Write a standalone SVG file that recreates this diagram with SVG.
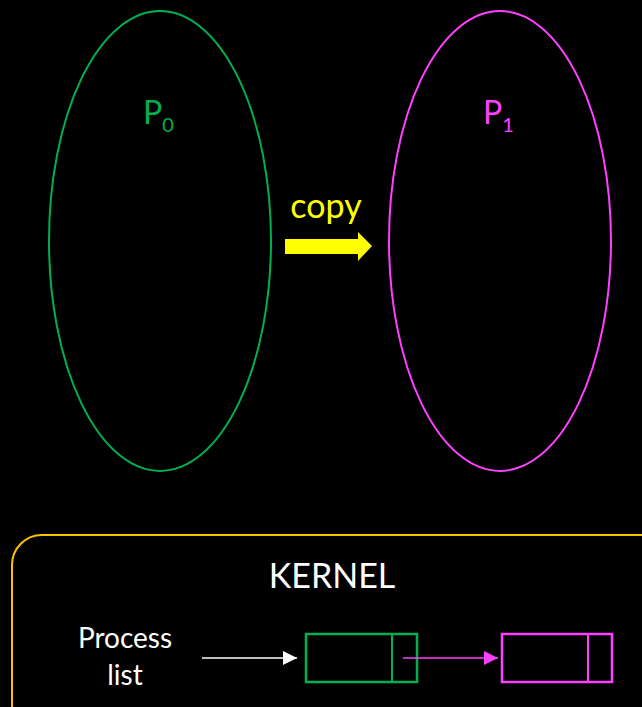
<svg xmlns="http://www.w3.org/2000/svg" width="642" height="707" viewBox="0 0 642 707">
<defs>
<style>
text{font-family:Lato,"Open Sans","Liberation Sans",sans-serif}
.g{stroke:#00B050;fill:none}
.m{stroke:#FF40FF;fill:none}
</style>
<marker id="aw" markerWidth="14" markerHeight="14" refX="14" refY="7" orient="auto" markerUnits="userSpaceOnUse"><path d="M0,0 L14,7 L0,14 Z" fill="#fff"/></marker>
<marker id="am" markerWidth="14" markerHeight="14" refX="14" refY="7" orient="auto" markerUnits="userSpaceOnUse"><path d="M0,0 L14,7 L0,14 Z" fill="#FF40FF"/></marker>
</defs>
<rect width="642" height="707" fill="#000"/>
<g id="p0">
<ellipse class="g" cx="160" cy="241" rx="111" ry="230" stroke-width="2"/>
<text x="143" y="124" font-size="32" fill="#00B050">P<tspan font-size="20" dy="8">0</tspan></text>
</g>
<g id="p1">
<ellipse class="m" cx="500" cy="241" rx="111" ry="230" stroke-width="2"/>
<text x="483" y="124" font-size="32" fill="#FF40FF">P<tspan font-size="20" dy="8">1</tspan></text>
</g>
<g id="copy">
<text x="326" y="218" font-size="34" fill="#FFFF00" text-anchor="middle">copy</text>
<path d="M285,239 H358 V232 L372,246 L358,261 V254 H285 Z" fill="#FFFF00"/>
</g>
<g id="kernel">
<rect x="12" y="535" width="660" height="200" rx="30" fill="none" stroke="#FFC000" stroke-width="2"/>
<text x="332" y="588" font-size="34" fill="#fff" text-anchor="middle">KERNEL</text>
<text x="125" y="648" font-size="28" fill="#fff" text-anchor="middle">Process</text>
<text x="125" y="685" font-size="28" fill="#fff" text-anchor="middle">list</text>
</g>
<g id="node0">
<rect class="g" x="306" y="634" width="111" height="48" stroke-width="2.5"/>
<line class="g" x1="392" y1="634" x2="392" y2="682" stroke-width="2"/>
</g>
<g id="node1">
<rect class="m" x="502" y="634" width="110" height="48" stroke-width="2.5"/>
<line class="m" x1="588" y1="634" x2="588" y2="682" stroke-width="2"/>
</g>
<g id="connectors">
<line x1="202" y1="658" x2="297" y2="658" stroke="#fff" stroke-width="1.5" marker-end="url(#aw)"/>
<line x1="403" y1="658" x2="498" y2="658" stroke="#FF40FF" stroke-width="1.5" marker-end="url(#am)"/>
</g>
</svg>
